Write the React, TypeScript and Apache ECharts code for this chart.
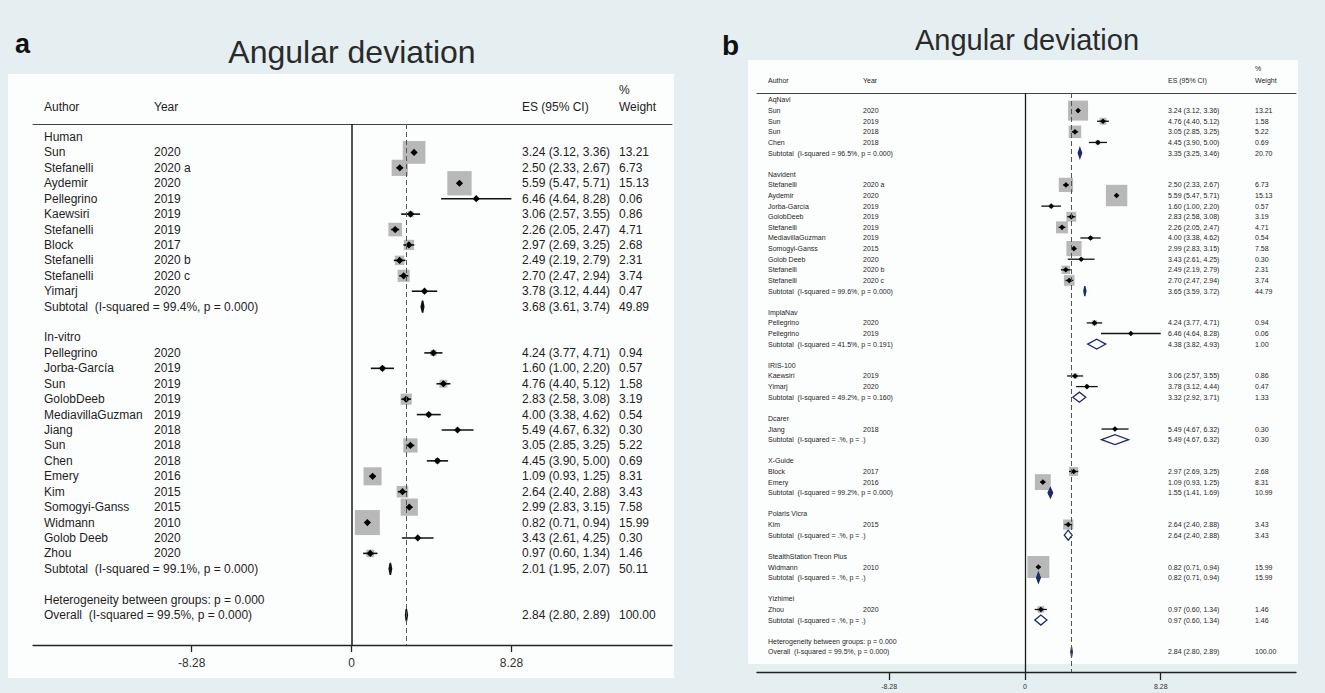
import React, { useEffect, useRef } from "react";
import * as echarts from "echarts";

// ---------- data ----------
const studyAuthors = [
  "Sun", "Stefanelli", "Aydemir", "Pellegrino", "Kaewsiri", "Stefanelli", "Block", "Stefanelli", "Stefanelli", "Yimarj",
  "Pellegrino", "Jorba-García", "Sun", "GolobDeeb", "MediavillaGuzman", "Jiang", "Sun", "Chen", "Emery", "Kim",
  "Somogyi-Ganss", "Widmann", "Golob Deeb", "Zhou",
];
const studyYears = [
  "2020", "2020 a", "2020", "2019", "2019", "2019", "2017", "2020 b", "2020 c", "2020",
  "2020", "2019", "2019", "2019", "2019", "2018", "2018", "2018", "2016", "2015",
  "2015", "2010", "2020", "2020",
];
const studyES = [3.24, 2.5, 5.59, 6.46, 3.06, 2.26, 2.97, 2.49, 2.7, 3.78, 4.24, 1.6, 4.76, 2.83, 4.0, 5.49, 3.05, 4.45, 1.09, 2.64, 2.99, 0.82, 3.43, 0.97];
const studyLo = [3.12, 2.33, 5.47, 4.64, 2.57, 2.05, 2.69, 2.19, 2.47, 3.12, 3.77, 1.0, 4.4, 2.58, 3.38, 4.67, 2.85, 3.9, 0.93, 2.4, 2.83, 0.71, 2.61, 0.6];
const studyHi = [3.36, 2.67, 5.71, 8.28, 3.55, 2.47, 3.25, 2.79, 2.94, 4.44, 4.71, 2.2, 5.12, 3.08, 4.62, 6.32, 3.25, 5.0, 1.25, 2.88, 3.15, 0.94, 4.25, 1.34];
const studyWeight = [13.21, 6.73, 15.13, 0.06, 0.86, 4.71, 2.68, 2.31, 3.74, 0.47, 0.94, 0.57, 1.58, 3.19, 0.54, 0.3, 5.22, 0.69, 8.31, 3.43, 7.58, 15.99, 0.3, 1.46];

// panel a subgroups
const aGroupNames = ["Human", "In-vitro"];
const aGroupStudies = [
  [0, 1, 2, 3, 4, 5, 6, 7, 8, 9],
  [10, 11, 12, 13, 14, 15, 16, 17, 18, 19, 20, 21, 22, 23],
];
const aSubES = [3.68, 2.01];
const aSubLo = [3.61, 1.95];
const aSubHi = [3.74, 2.07];
const aSubWeight = [49.89, 50.11];
const aSubHet = ["I-squared = 99.4%, p = 0.000", "I-squared = 99.1%, p = 0.000"];

// panel b subgroups
const bGroupNames = ["AqNavi", "Navident", "ImplaNav", "IRIS-100", "Dcarer", "X-Guide", "Polaris Vicra", "StealthStation Treon Plus", "Yizhimei"];
const bGroupStudies = [
  [0, 12, 16, 17],
  [1, 2, 11, 13, 5, 14, 20, 22, 7, 8],
  [10, 3],
  [4, 9],
  [15],
  [6, 18],
  [19],
  [21],
  [23],
];
const bSubES = [3.35, 3.65, 4.38, 3.32, 5.49, 1.55, 2.64, 0.82, 0.97];
const bSubLo = [3.25, 3.59, 3.82, 2.92, 4.67, 1.41, 2.4, 0.71, 0.6];
const bSubHi = [3.46, 3.72, 4.93, 3.71, 6.32, 1.69, 2.88, 0.94, 1.34];
const bSubWeight = [20.7, 44.79, 1.0, 1.33, 0.3, 10.99, 3.43, 15.99, 1.46];
const bSubHet = [
  "I-squared = 96.5%, p = 0.000",
  "I-squared = 99.6%, p = 0.000",
  "I-squared = 41.5%, p = 0.191",
  "I-squared = 49.2%, p = 0.160",
  "I-squared = .%, p = .",
  "I-squared = 99.2%, p = 0.000",
  "I-squared = .%, p = .",
  "I-squared = .%, p = .",
  "I-squared = .%, p = .",
];

const overallES = 2.84;
const overallLo = 2.8;
const overallHi = 2.89;
const overallWeight = 100.0;
const overallHet = "I-squared = 99.5%, p = 0.000";
const betweenHet = "p = 0.000";

const xTicks = [-8.28, 0, 8.28];

// ---------- helpers ----------
const FONT = '"Liberation Sans", Arial, Helvetica, sans-serif';
const TXT = "#1e1e1e";

type Row = { row: number; kind: string; label: string; year?: string; es?: number; lo?: number; hi?: number; w?: number };

function buildRows(names: string[], members: number[][], sES: number[], sLo: number[], sHi: number[], sW: number[], sHet: string[]): Row[] {
  const rows: Row[] = [];
  let r = 0;
  names.forEach((n, g) => {
    rows.push({ row: r++, kind: "header", label: n });
    members[g].forEach((i) =>
      rows.push({ row: r++, kind: "study", label: studyAuthors[i], year: studyYears[i], es: studyES[i], lo: studyLo[i], hi: studyHi[i], w: studyWeight[i] })
    );
    rows.push({ row: r++, kind: "sub", label: `Subtotal\u00a0 (${sHet[g]})`, es: sES[g], lo: sLo[g], hi: sHi[g], w: sW[g] });
    r++;
  });
  rows.push({ row: r++, kind: "het", label: `Heterogeneity between groups: ${betweenHet}` });
  rows.push({ row: r++, kind: "overall", label: `Overall\u00a0 (${overallHet})`, es: overallES, lo: overallLo, hi: overallHi, w: overallWeight });
  return rows;
}

const rowsA = buildRows(aGroupNames, aGroupStudies, aSubES, aSubLo, aSubHi, aSubWeight, aSubHet);
const rowsB = buildRows(bGroupNames, bGroupStudies, bSubES, bSubLo, bSubHi, bSubWeight, bSubHet);

type PanelCfg = {
  rows: Row[];
  cols: number[];
  fs: number;
  boxK: number;
  diaH: number;
  lw: number;
  pr: number;
  diaStroke: string;
};

function makeRender(cfg: PanelCfg) {
  return (params: any, api: any) => {
    const r = cfg.rows[params.dataIndex];
    const base = api.coord([0, r.row]);
    const cy = base[1];
    const font = `${cfg.fs}px ${FONT}`;
    const txt = (t: string, x: number) => ({
      type: "text",
      style: { text: t, x, y: cy, fill: TXT, font, textAlign: "left", textVerticalAlign: "middle" },
    });
    const children: any[] = [];
    if (r.kind === "study") {
      const p = api.coord([r.es, r.row]);
      const pl = api.coord([r.lo, r.row]);
      const ph = api.coord([r.hi, r.row]);
      const s = cfg.boxK * Math.sqrt(r.w as number);
      children.push({ type: "rect", shape: { x: p[0] - s / 2, y: cy - s / 2, width: s, height: s }, style: { fill: "#b8b8b8" } });
      children.push({ type: "line", shape: { x1: pl[0], y1: cy, x2: ph[0], y2: cy }, style: { stroke: "#111", lineWidth: cfg.lw } });
      children.push({
        type: "polygon",
        shape: { points: [[p[0] - cfg.pr, cy], [p[0], cy - cfg.pr], [p[0] + cfg.pr, cy], [p[0], cy + cfg.pr]] },
        style: { fill: "#000" },
      });
    }
    if (r.kind === "sub" || r.kind === "overall") {
      const p = api.coord([r.es, r.row]);
      const pl = api.coord([r.lo, r.row]);
      const ph = api.coord([r.hi, r.row]);
      const narrow = ph[0] - pl[0] < 5;
      children.push({
        type: "polygon",
        shape: { points: [[pl[0], cy], [p[0], cy - cfg.diaH], [ph[0], cy], [p[0], cy + cfg.diaH]] },
        style: { fill: narrow ? cfg.diaStroke : "#fff", stroke: cfg.diaStroke, lineWidth: cfg.lw },
      });
    }
    children.push(txt(r.label, cfg.cols[0]));
    if (r.year) children.push(txt(r.year, cfg.cols[1]));
    if (r.es !== undefined) {
      children.push(txt(`${(r.es as number).toFixed(2)} (${(r.lo as number).toFixed(2)}, ${(r.hi as number).toFixed(2)})`, cfg.cols[2]));
      children.push(txt((r.w as number).toFixed(2), cfg.cols[3]));
    }
    return { type: "group", children };
  };
}

function xAxes(grid: number, min: number, max: number, fs: number, tickLen: number, margin: number) {
  return [
    {
      gridIndex: grid,
      type: "value",
      min,
      max,
      position: "bottom",
      axisLine: { show: true, onZero: false, lineStyle: { color: "#222", width: 1.3 } },
      axisTick: { show: true, customValues: xTicks, length: tickLen, lineStyle: { color: "#222", width: 1.3 } },
      axisLabel: {
        customValues: xTicks,
        formatter: (v: number) => (v === 0 ? "0" : v.toFixed(2)),
        fontSize: fs,
        fontFamily: FONT,
        color: "#333",
        margin,
      },
      splitLine: { show: false },
    },
    {
      gridIndex: grid,
      type: "value",
      min,
      max,
      position: "top",
      axisLine: { show: true, onZero: false, lineStyle: { color: "#444", width: 1 } },
      axisTick: { show: false },
      axisLabel: { show: false },
      splitLine: { show: false },
    },
  ];
}

function markLines(solidW: number) {
  return {
    silent: true,
    symbol: ["none", "none"],
    label: { show: false },
    animation: false,
    data: [
      { xAxis: 0, lineStyle: { color: "#1a1a1a", type: "solid", width: solidW } },
      { xAxis: overallES, lineStyle: { color: "#555", type: [5, 3], width: 1 } },
    ],
  };
}

function headerTexts(cols: number[], yMain: number, yPct: number, fs: number) {
  const st = (text: string, x: number, y: number) => ({
    type: "text",
    z: 10,
    style: { text, x, y, fill: TXT, font: `${fs}px ${FONT}`, textAlign: "left", textVerticalAlign: "middle" },
  });
  return [
    st("Author", cols[0], yMain),
    st("Year", cols[1], yMain),
    st("ES (95% CI)", cols[2], yMain),
    st("%", cols[3], yPct),
    st("Weight", cols[3], yMain),
  ];
}

export default function App() {
  const ref = useRef<HTMLDivElement>(null);
  useEffect(() => {
    if (!ref.current) return;
    const chart = echarts.init(ref.current, undefined, { renderer: "svg" });
    const colsA = [44, 154, 522, 619];
    const colsB = [768, 863, 1168, 1255];
    const option: any = {
      animation: false,
      backgroundColor: "#e5eef1",
      grid: [
        { left: 33, top: 124, width: 639, height: 521 },
        { left: 757, top: 93, width: 539, height: 579 },
      ],
      xAxis: [...xAxes(0, -16.5, 16.6, 12, 7, 12), ...xAxes(1, -16.34, 16.53, 7, 8, 11)],
      yAxis: [
        { gridIndex: 0, type: "value", min: -0.843, max: 32.94, inverse: true, show: false },
        { gridIndex: 1, type: "value", min: -0.659, max: 53.89, inverse: true, show: false },
      ],
      graphic: [
        { type: "rect", z: -10, shape: { x: 8, y: 74, width: 666, height: 604 }, style: { fill: "#fcfdfd" } },
        { type: "rect", z: -10, shape: { x: 748, y: 60, width: 550, height: 604 }, style: { fill: "#fcfdfd" } },
        { type: "text", z: 10, style: { text: "a", x: 15, y: 44, fill: "#111", font: `bold 27px ${FONT}`, textAlign: "left", textVerticalAlign: "middle" } },
        { type: "text", z: 10, style: { text: "Angular deviation", x: 352, y: 52, fill: "#2a2a2a", font: `32px ${FONT}`, textAlign: "center", textVerticalAlign: "middle" } },
        { type: "text", z: 10, style: { text: "b", x: 722, y: 45, fill: "#111", font: `bold 28px ${FONT}`, textAlign: "left", textVerticalAlign: "middle" } },
        { type: "text", z: 10, style: { text: "Angular deviation", x: 1027, y: 40, fill: "#2a2a2a", font: `29px ${FONT}`, textAlign: "center", textVerticalAlign: "middle" } },
        ...headerTexts(colsA, 107, 90, 12),
        ...headerTexts(colsB, 80, 68, 7),
      ],
      series: [
        {
          type: "custom",
          xAxisIndex: 0,
          yAxisIndex: 0,
          clip: false,
          encode: { x: 0, y: 1 },
          data: rowsA.map((r) => [r.es ?? 0, r.row]),
          renderItem: makeRender({ rows: rowsA, cols: colsA, fs: 12, boxK: 6.25, diaH: 6, lw: 1.6, pr: 3.6, diaStroke: "#111" }),
          markLine: markLines(1.5),
        },
        {
          type: "custom",
          xAxisIndex: 2,
          yAxisIndex: 1,
          clip: false,
          encode: { x: 0, y: 1 },
          data: rowsB.map((r) => [r.es ?? 0, r.row]),
          renderItem: makeRender({ rows: rowsB, cols: colsB, fs: 7, boxK: 5.5, diaH: 5, lw: 1.3, pr: 2.8, diaStroke: "#1f2a6b" }),
          markLine: markLines(1.3),
        },
      ],
    };
    chart.setOption(option);
    return () => chart.dispose();
  }, []);
  return <div ref={ref} style={{ position: "fixed", left: 0, top: 0, width: 1325, height: 693 }} />;
}
